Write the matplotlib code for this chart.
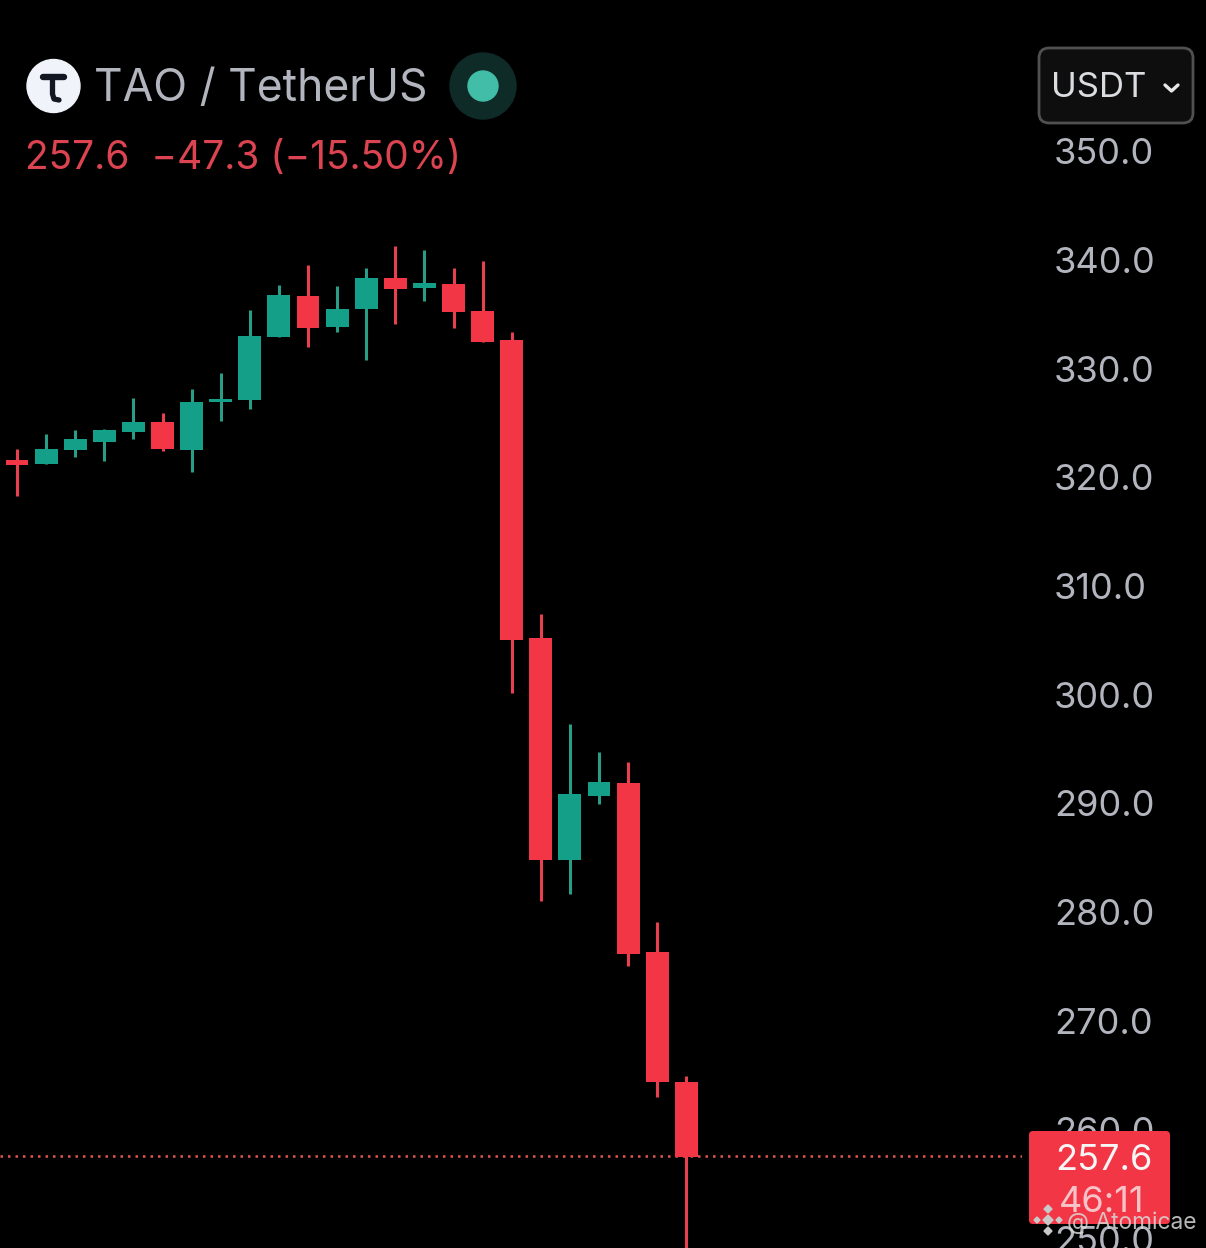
import matplotlib
matplotlib.use("Agg")
import matplotlib.pyplot as plt
from matplotlib.patches import Circle, FancyBboxPatch, Polygon

plt.rcParams['font.family'] = ['Inter', 'DejaVu Sans']

# OHLC
opens  = [321.6, 321.2, 322.5, 323.2, 324.2, 325.1, 322.5, 326.9, 327.1, 332.9, 336.7, 333.8,
          335.5, 338.3, 337.4, 337.8, 335.3, 332.6, 305.2, 284.8, 290.7, 291.9, 276.3, 264.4]
closes = [321.1, 322.6, 323.5, 324.3, 325.1, 322.6, 326.9, 327.2, 333.0, 336.8, 333.7, 335.5,
          338.3, 337.3, 337.9, 335.2, 332.4, 305.0, 284.8, 290.9, 292.0, 276.2, 264.4, 257.5]
highs  = [322.6, 324.0, 324.3, 324.4, 327.3, 325.9, 328.1, 329.6, 335.4, 337.7, 339.5, 337.6,
          339.2, 341.3, 340.9, 339.2, 339.9, 333.4, 307.4, 297.3, 294.7, 293.8, 279.1, 264.9]
lows   = [318.3, 321.2, 321.9, 321.5, 323.5, 322.4, 320.5, 325.2, 326.3, 332.9, 332.0, 333.4,
          330.8, 334.1, 336.2, 333.7, 332.4, 300.2, 281.0, 281.7, 290.0, 275.1, 263.0, 245.0]
price_ticks = [250, 260, 270, 280, 290, 300, 310, 320, 330, 340, 350]
last_price = 257.6
title = "TAO / TetherUS"
subtitle = "257.6  \u221247.3 (\u221215.50%)"
countdown = "46:11"
unit = "USDT"
watermark = "@ Atomicae"

W, H = 1206, 1248
RED, GREEN = "#F23645", "#14A088"
GREY = "#B2B5BE"

fig = plt.figure(figsize=(W / 100, H / 100), dpi=100, facecolor="black")
ax = fig.add_axes([0, 0, 1022 / W, 1], facecolor="black")
xs = list(range(len(opens)))
cols = [GREEN if c >= o else RED for o, c in zip(opens, closes)]
wick_cols = ["#2A9D86" if c >= o else "#E8404F" for o, c in zip(opens, closes)]
ax.vlines(xs, lows, highs, colors=wick_cols, linewidth=2.2, zorder=2)
ax.bar(xs, [abs(c - o) for o, c in zip(opens, closes)], bottom=[min(o, c) for o, c in zip(opens, closes)],
       width=0.79, color=cols, zorder=3)
ax.axhline(last_price, color="#E0564F", linewidth=1.8, linestyle=(0, (1, 2)), zorder=1)
step = 29.1
x0 = 17.0
ax.set_xlim(-x0 / step, (1022 - x0) / step)
ax.set_ylim(350 - 1097 / 10.875, 350 + 151 / 10.875)
ax.set_xticks([])
ax.yaxis.tick_right()
ax.set_yticks(price_ticks)
ax.set_yticklabels([f"{p:.1f}" for p in price_ticks], color=GREY, fontsize=26)
ax.tick_params(axis="y", length=0, pad=23)
for s in ax.spines.values():
    s.set_visible(False)

# Interface overlay in pixel coordinates
ui = fig.add_axes([0, 0, 1, 1], facecolor="none")
ui.set_xlim(0, W)
ui.set_ylim(H, 0)
ui.axis("off")

ui.add_patch(Circle((53.5, 86), 26.5, color="#F0F3FA", zorder=2))
ui.plot([43, 64], [77, 77], color="#131722", linewidth=4.6, solid_capstyle="round", zorder=3)
ui.plot([52.5, 52.5, 54, 59], [77, 94, 99, 100], color="#131722", linewidth=3.8, solid_capstyle="round", zorder=3)
ui.text(94, 89.5, title, color=GREY, fontsize=32, ha="left", va="center")
ui.add_patch(Circle((483, 86), 33, color="#0E2B28", zorder=2))
ui.add_patch(Circle((483, 86), 15, color="#42BDA8", zorder=3))
ui.text(25, 159, subtitle, color="#DB4450", fontsize=28, ha="left", va="center")

ui.add_patch(FancyBboxPatch((1049, 58), 134, 55, boxstyle="round,pad=10,rounding_size=10",
                            facecolor="#0E0E0E", edgecolor="#505050", linewidth=2))
ui.text(1051, 88, unit, color="#DADCE0", fontsize=25, ha="left", va="center")
ui.plot([1165, 1171.5, 1178], [85, 91, 85], color="#E8E8E8", linewidth=2.4, solid_capstyle="round")

ui.add_patch(FancyBboxPatch((1033, 1135), 133, 85, boxstyle="round,pad=4,rounding_size=4",
                            facecolor=RED, edgecolor="none", zorder=4))
ui.text(1104, 1160, f"{last_price:.1f}", color="#F6F6F6", fontsize=26, ha="center", va="center", zorder=5)
ui.text(1102, 1202, countdown, color="#F7C3C8", fontsize=26, ha="center", va="center", zorder=5)

wm = "#C9C9C9"
for cx, cy, r in [(1048, 1209, 4), (1048, 1231, 4), (1037, 1220, 3), (1059, 1220, 3)]:
    ui.add_patch(Polygon([(cx - r, cy), (cx, cy - r), (cx + r, cy), (cx, cy + r)], color=wm, zorder=6))
ui.add_patch(Polygon([(1048, 1215), (1053, 1220), (1048, 1225), (1043, 1220)], color=wm, zorder=6))
ui.text(1067, 1223, watermark, color="#D8D8D8", alpha=0.85, fontsize=16.4, ha="left", va="center", zorder=6)

fig.savefig("out.png", dpi=100, facecolor="black")
